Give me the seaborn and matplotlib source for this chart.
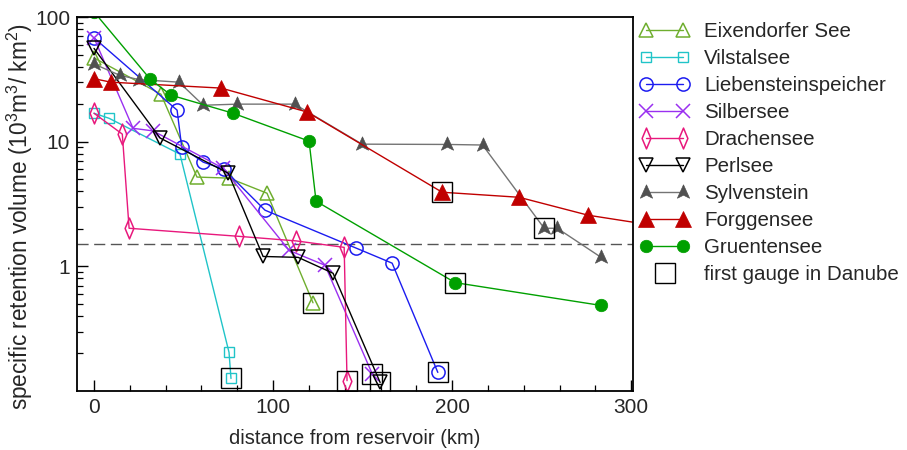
import numpy as np
import pandas as pd
import matplotlib
matplotlib.use("Agg")
import matplotlib.pyplot as plt
from matplotlib.path import Path
from matplotlib.lines import Line2D
from matplotlib.legend_handler import HandlerLine2D
from matplotlib.ticker import FixedLocator, NullFormatter, LogLocator
import seaborn as sns

# distance from reservoir (km) and specific retention volume (10^3 m^3 / km^2)
eix_x = [0, 37.4, 57.5, 75.4, 96.6, 122.3]
eix_y = [47, 24, 5.2, 5.1, 3.86, 0.51]

vil_x = [0, 8.4, 48, 75.4, 76.5]
vil_y = [16.9, 15.4, 7.94, 0.204, 0.126]

lieb_x = [0, 46.4, 49, 61, 72.6, 95.5, 146.4, 166.5, 192]
lieb_y = [68, 17.9, 9.0, 6.85, 6.0, 2.82, 1.40, 1.06, 0.141]

silb_x = [0, 21.8, 33, 72, 109, 129, 155.3]
silb_y = [68, 12.8, 12.2, 6.13, 1.34, 1.02, 0.138]

drach_x = [0, 15.8, 19.6, 81, 112.8, 139.7, 141.3]
drach_y = [16.9, 11.5, 2.02, 1.74, 1.6, 1.42, 0.121]

perl_x = [0, 36.9, 75, 94.4, 114, 133.5, 159.8]
perl_y = [56, 10.7, 5.58, 1.2, 1.18, 0.88, 0.117]

sylv_x = [0, 14.5, 25, 47.5, 61, 80, 112, 149.7, 197, 217, 251.4, 258.7, 283.2]
sylv_y = [42, 34, 31.5, 30, 19.6, 20, 20, 9.55, 9.5, 9.4, 2.02, 2.02, 1.18]

forg_x = [0, 9.5, 71, 119, 194.4, 237.4, 276, 320]
forg_y = [32, 30, 26.9, 17.3, 3.93, 3.58, 2.57, 2.05]

gruen_x = [0, 31.3, 43, 77.7, 120.1, 124, 201.7, 283]
gruen_y = [110, 31.8, 23.6, 16.9, 10.1, 3.33, 0.74, 0.486]

# index of the first gauge in the Danube along each series
gauge_idx = {
    "Eixendorfer See": 5, "Vilstalsee": 4, "Liebensteinspeicher": 8,
    "Silbersee": 6, "Drachensee": 6, "Perlsee": 6, "Sylvenstein": 10,
    "Forggensee": 4, "Gruentensee": 6,
}

threshold = 1.5

sns.set_theme(style="white")
plt.rcParams["font.family"] = ["Liberation Sans", "DejaVu Sans"]
plt.rcParams["mathtext.fontset"] = "custom"
plt.rcParams["mathtext.rm"] = "Liberation Sans"
plt.rcParams["mathtext.it"] = "Liberation Sans"

# arrowhead marker for Sylvenstein
arrow = Path([(0, 1), (0.8, -0.75), (0, -0.35), (-0.8, -0.75), (0, 1)],
             [Path.MOVETO, Path.LINETO, Path.LINETO, Path.LINETO, Path.CLOSEPOLY])
thin_diamond = Path([(0, 1), (0.42, 0), (0, -1), (-0.42, 0), (0, 1)],
                    [Path.MOVETO, Path.LINETO, Path.LINETO, Path.LINETO, Path.CLOSEPOLY])

styles = [
    ("Eixendorfer See", eix_x, eix_y, dict(color="#6fae2e", marker="^", ms=10, mfc="none", mew=1.1)),
    ("Vilstalsee", vil_x, vil_y, dict(color="#20c4c8", marker="s", ms=7, mfc="none", mew=1.0)),
    ("Liebensteinspeicher", lieb_x, lieb_y, dict(color="#1c1cf0", marker="o", ms=9.5, mfc="none", mew=1.1)),
    ("Silbersee", silb_x, silb_y, dict(color="#9a30f0", marker="x", ms=10, mew=1.1)),
    ("Drachensee", drach_x, drach_y, dict(color="#e8187c", marker=thin_diamond, ms=15, mfc="none", mew=1.1)),
    ("Perlsee", perl_x, perl_y, dict(color="black", marker="v", ms=10, mfc="none", mew=1.1)),
    ("Sylvenstein", sylv_x, sylv_y, dict(color="#747474", marker=arrow, ms=11, mfc="#505050", mew=0.5)),
    ("Forggensee", forg_x, forg_y, dict(color="#c00000", marker="^", ms=11, mfc="#c00000", mew=0.5)),
    ("Gruentensee", gruen_x, gruen_y, dict(color="#00a000", marker="o", ms=9, mfc="#00a000", mew=0.5)),
]

fig = plt.figure(figsize=(9.07, 4.5), dpi=100)
ax = fig.add_axes([77 / 907, 1 - 391 / 450, (633 - 77) / 907, (391 - 17) / 450])

handles = []
for name, xs, ys, st in styles:
    df = pd.DataFrame({"x": xs, "y": ys})
    kw = dict(st)
    kw["mec"] = "#505050" if name == "Sylvenstein" else kw["color"]
    sns.lineplot(data=df, x="x", y="y", ax=ax, sort=False, estimator=None,
                 lw=1.0, legend=False, **kw)
    handles.append(Line2D([], [], lw=1.0, label=name, **kw))

# first gauge in the Danube
series = {n: (x, y) for n, x, y, _ in styles}
gx = [series[n][0][i] for n, i in gauge_idx.items()]
gy = [series[n][1][i] for n, i in gauge_idx.items()]
ax.plot(gx, gy, ls="none", marker="s", ms=14, mfc="none", mec="black", mew=1.0, zorder=5)
gauge_handle = Line2D([], [], ls="none", marker="s", ms=14, mfc="none", mec="black",
                      mew=1.0, label="first gauge in Danube")
handles.append(gauge_handle)

ax.axhline(threshold, color="#555555", lw=1.0, dashes=(8, 4), zorder=1)

ax.set_yscale("log")
ax.set_xlim(-9.5, 301)
ax.set_ylim(0.1, 100)

ax.set_xticks([0, 100, 200, 300])
ax.xaxis.set_minor_locator(FixedLocator(np.arange(0, 301, 20)))
ax.set_yticks([1, 10, 100])
ax.set_yticklabels(["1", "10", "100"])
ax.yaxis.set_minor_locator(LogLocator(base=10, subs=np.arange(2, 10)))
ax.yaxis.set_minor_formatter(NullFormatter())

ax.tick_params(which="major", direction="in", length=8, width=1.0, color="black",
               labelsize=15, pad=5, top=False, right=False, left=True, bottom=True)
ax.tick_params(which="minor", direction="in", length=4.5, width=0.9, color="black",
               top=False, right=False, left=True, bottom=True)

for sp in ax.spines.values():
    sp.set_visible(True)
    sp.set_color("black")
    sp.set_linewidth(1.3)

ax.set_xlabel("distance from reservoir (km)", fontsize=14.5, labelpad=9)
ax.set_ylabel("specific retention volume (10$^3$m$^3$/ km$^2$)", fontsize=16.3)
ax.yaxis.set_label_coords(-0.075, 0.465)

fig.legend(handles=handles, loc="upper left", bbox_to_anchor=(632 / 907, 1 - 14 / 450),
           frameon=False, fontsize=14.8, numpoints=2, handlelength=2.4,
           handletextpad=0.72, labelspacing=0.39, borderaxespad=0,
           handler_map={gauge_handle: HandlerLine2D(numpoints=1)})

fig.savefig("out.png", dpi=100)
